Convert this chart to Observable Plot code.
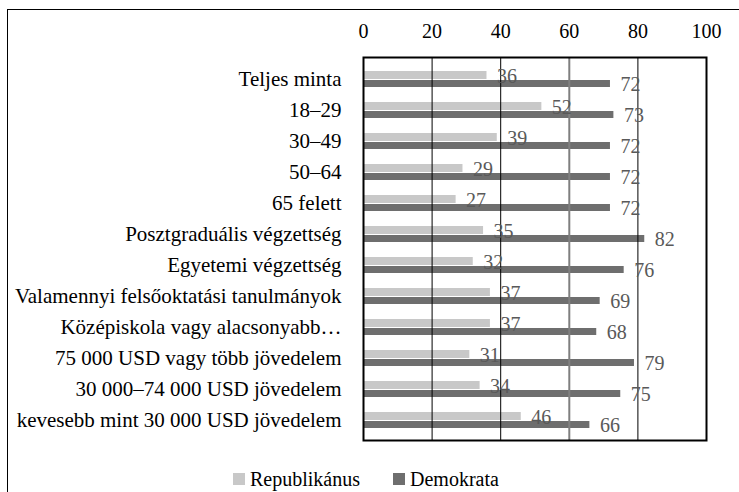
<!DOCTYPE html>
<html>
<head>
<meta charset="utf-8">
<script src="https://cdn.jsdelivr.net/npm/d3@7"></script>
<script src="https://cdn.jsdelivr.net/npm/@observablehq/plot@0.6"></script>
<style>
  html, body { margin: 0; padding: 0; background: #fff; }
  #wrap { position: relative; width: 739px; height: 492px; overflow: hidden; font-family: "Liberation Serif", serif; }
  #border { position: absolute; left: 7px; top: 9px; width: 800px; height: 600px; border-left: 1px solid #000; border-top: 1px solid #000; pointer-events: none; }
  #chart { position: absolute; left: 0; top: 0; }
  #chart svg text { font-family: "Liberation Serif", serif; }
  #legend { position: absolute; left: 0; top: 467px; width: 739px; height: 24px; font-size: 20px; color: #000; }
  .item { position: absolute; top: 0; display: flex; align-items: center; height: 24px; }
  .sw { width: 12px; height: 12px; margin-right: 5px; }
</style>
</head>
<body>
<div id="wrap">
  <div id="chart"></div>
  <div id="border"></div>
  <div id="legend"></div>
</div>
<script>
const categories = [
  "Teljes minta",
  "18–29",
  "30–49",
  "50–64",
  "65 felett",
  "Posztgraduális végzettség",
  "Egyetemi végzettség",
  "Valamennyi felsőoktatási tanulmányok",
  "Középiskola vagy alacsonyabb…",
  "75 000 USD vagy több jövedelem",
  "30 000–74 000 USD jövedelem",
  "kevesebb mint 30 000 USD jövedelem"
];
const republikanus = [36, 52, 39, 29, 27, 35, 32, 37, 37, 31, 34, 46];
const demokrata = [72, 73, 72, 72, 72, 82, 76, 69, 68, 79, 75, 66];
const seriesNames = ["Republikánus", "Demokrata"];
const seriesColors = ["#c8c8c8", "#6e6e6e"];
const xTicks = [0, 20, 40, 60, 80, 100];

const rep = categories.map((c, i) => ({cat: c, value: republikanus[i]}));
const dem = categories.map((c, i) => ({cat: c, value: demokrata[i]}));
const FF = "Liberation Serif";

const plot = Plot.plot({
  width: 739,
  height: 460,
  marginLeft: 363,
  marginRight: 33,
  marginTop: 57,
  marginBottom: 20,
  style: {fontFamily: FF, fontSize: "19px", color: "#000", background: "transparent"},
  x: {domain: [0, 100], ticks: xTicks, axis: null, label: null},
  y: {domain: categories, padding: 0, axis: null, label: null},
  marks: [
    Plot.barX(rep, {x: "value", y: "cat", fill: seriesColors[0], insetTop: 8, insetBottom: 15}),
    Plot.barX(dem, {x: "value", y: "cat", fill: seriesColors[1], insetTop: 17, insetBottom: 7}),
    Plot.ruleX(xTicks.filter(d => d > 0 && d < 100 && d !== 60), {stroke: "#000", strokeWidth: 1}),
    Plot.ruleX(xTicks.filter(d => d === 60), {stroke: "#7f7f7f", strokeWidth: 2}),
    Plot.frame({stroke: "#000", strokeWidth: 2}),
    Plot.axisX({anchor: "top", ticks: xTicks, tickSize: 0, tickPadding: 20, fontSize: 20, fontFamily: FF, fill: "#000", label: null}),
    Plot.axisY({anchor: "left", tickSize: 0, tickPadding: 22, fontSize: 21, fontFamily: FF, fill: "#000", label: null}),
    Plot.text(rep, {x: "value", y: "cat", text: d => String(d.value), textAnchor: "start", dx: 10, dy: -2, fill: "#595959", fontSize: 20, fontFamily: FF}),
    Plot.text(dem, {x: "value", y: "cat", text: d => String(d.value), textAnchor: "start", dx: 10, dy: 6, fill: "#595959", fontSize: 20, fontFamily: FF})
  ]
});
document.getElementById("chart").appendChild(plot);

const legend = document.getElementById("legend");
const lefts = [233, 393];
seriesNames.forEach((name, i) => {
  const item = document.createElement("div");
  item.className = "item";
  item.style.left = lefts[i] + "px";
  const sw = document.createElement("span");
  sw.className = "sw";
  sw.style.background = seriesColors[i];
  const label = document.createElement("span");
  label.textContent = name;
  item.appendChild(sw);
  item.appendChild(label);
  legend.appendChild(item);
});
</script>
</body>
</html>
